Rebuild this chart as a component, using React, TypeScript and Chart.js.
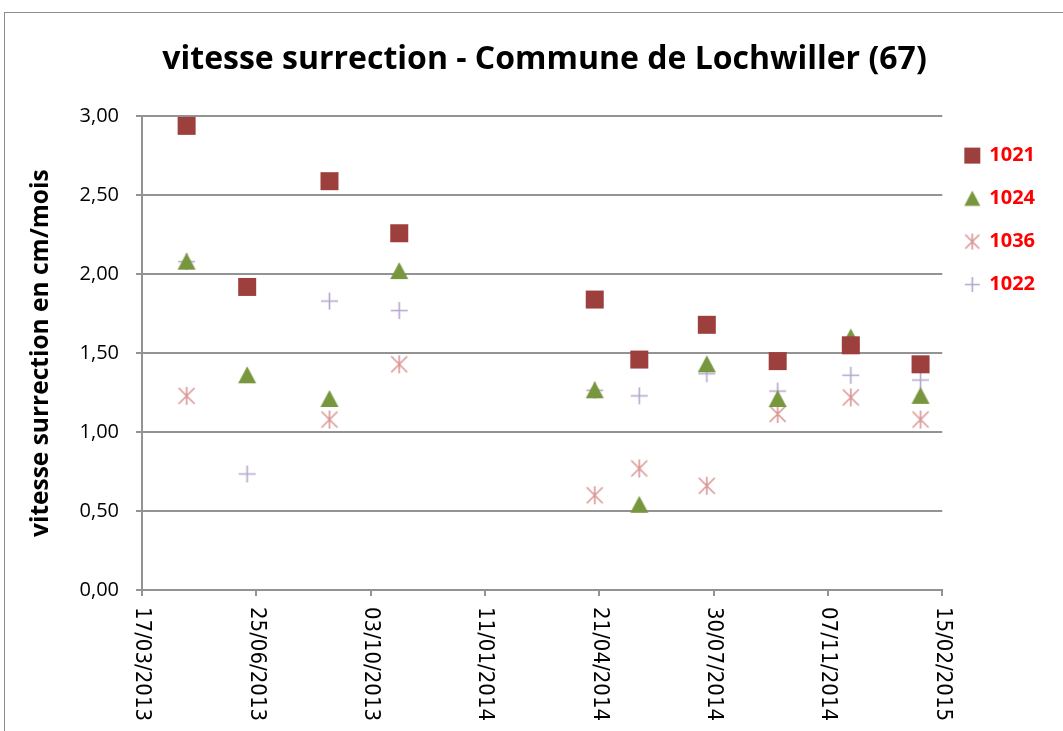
import React, { useEffect, useRef } from 'react';
import { Chart, registerables } from 'chart.js';

Chart.register(...registerables);

// ---- data ----
const chartTitle = 'vitesse surrection - Commune de Lochwiller (67)';
const yAxisTitle = 'vitesse surrection en cm/mois';
const dates = ['25/04/2013', '17/06/2013', '28/08/2013', '28/10/2013', '17/04/2014', '26/05/2014', '24/07/2014', '24/09/2014', '27/11/2014', '27/01/2015'];
const s1021 = [2.94, 1.92, 2.59, 2.26, 1.84, 1.46, 1.68, 1.45, 1.55, 1.43];
const s1024 = [2.08, 1.36, 1.21, 2.02, 1.265, 0.54, 1.43, 1.21, 1.6, 1.23];
const s1036 = [1.23, null, 1.08, 1.43, 0.6, 0.77, 0.66, 1.115, 1.22, 1.08];
const s1022 = [2.08, 0.735, 1.83, 1.77, 1.265, 1.23, 1.37, 1.26, 1.36, 1.33];
const seriesNames = ['1021', '1024', '1036', '1022'];
const seriesColors = ['#9C3F3D', '#77963D', '#DA9694', '#B3A6CD'];
const seriesKinds = ['square', 'triangle', 'star', 'plus'];
const xAxisStart = '17/03/2013';
const xAxisEnd = '15/02/2015';
const xStepDays = 100;
const yMin = 0;
const yMax = 3;
const yStep = 0.5;

const DAY = 86400000;
function toDay(s: string): number {
  const [d, m, y] = s.split('/').map(Number);
  return Math.round(Date.UTC(y, m - 1, d) / DAY);
}
function fromDay(v: number): string {
  const dt = new Date(v * DAY);
  const p = (n: number) => String(n).padStart(2, '0');
  return `${p(dt.getUTCDate())}/${p(dt.getUTCMonth() + 1)}/${dt.getUTCFullYear()}`;
}

function makeMarker(kind: string, size: number, color: string): HTMLCanvasElement {
  const c = document.createElement('canvas');
  c.width = size + 2;
  c.height = size + 2;
  const ctx = c.getContext('2d')!;
  const o = 1;
  const s = size;
  ctx.fillStyle = color;
  ctx.strokeStyle = color;
  if (kind === 'square') {
    ctx.fillRect(o, o, s, s);
  } else if (kind === 'triangle') {
    ctx.beginPath();
    ctx.moveTo(o + s / 2, o);
    ctx.lineTo(o + s, o + s * 0.95);
    ctx.lineTo(o, o + s * 0.95);
    ctx.closePath();
    ctx.fill();
  } else if (kind === 'star') {
    ctx.lineWidth = 1.6;
    ctx.beginPath();
    ctx.moveTo(o + 1, o + 1);
    ctx.lineTo(o + s - 1, o + s - 1);
    ctx.moveTo(o + s - 1, o + 1);
    ctx.lineTo(o + 1, o + s - 1);
    ctx.moveTo(o + s / 2, o);
    ctx.lineTo(o + s / 2, o + s);
    ctx.stroke();
  } else {
    ctx.lineWidth = 1.6;
    ctx.beginPath();
    ctx.moveTo(o + s / 2, o);
    ctx.lineTo(o + s / 2, o + s);
    ctx.moveTo(o, o + s / 2);
    ctx.lineTo(o + s, o + s / 2);
    ctx.stroke();
  }
  return c;
}

const FONT = "'Open Sans', 'Liberation Sans', sans-serif";
const GRID = '#939393';

export default function App() {
  const ref = useRef<HTMLCanvasElement | null>(null);

  useEffect(() => {
    if (!ref.current) return;
    const allSeries = [s1021, s1024, s1036, s1022];
    const dataMarkers = seriesKinds.map((k, i) => makeMarker(k, k === 'plus' ? 17 : 18, seriesColors[i]));
    const legendMarkers = seriesKinds.map((k, i) => makeMarker(k, k === 'plus' ? 15 : 16, seriesColors[i]));

    const datasets = allSeries.map((vals, i) => ({
      label: seriesNames[i],
      data: vals
        .map((v, j) => (v === null ? null : { x: toDay(dates[j]), y: v }))
        .filter((p) => p !== null),
      pointStyle: dataMarkers[i],
      backgroundColor: seriesColors[i],
      borderColor: seriesColors[i],
      showLine: false,
    }));

    const frame = {
      id: 'frame',
      afterLayout(chart: any) {
        // centre the title over the same span as the original picture
        if (chart.titleBlock) chart.titleBlock.left += 44;
      },
      beforeDraw(chart: any) {
        const { ctx } = chart;
        ctx.save();
        ctx.fillStyle = '#ffffff';
        ctx.fillRect(0, 0, chart.width, chart.height);
        ctx.strokeStyle = '#8c8c8c';
        ctx.lineWidth = 1;
        ctx.strokeRect(4.5, 12.5, chart.width + 20, chart.height + 20);
        ctx.restore();
      },
    };

    const xLabels = {
      id: 'xLabels',
      afterDraw(chart: any) {
        const sc = chart.scales.x;
        const ctx = chart.ctx;
        ctx.save();
        ctx.fillStyle = '#000000';
        ctx.font = "22px 'DejaVu Sans Condensed', 'DejaVu Sans', sans-serif";
        ctx.textAlign = 'left';
        ctx.textBaseline = 'middle';
        sc.ticks.forEach((t: any) => {
          const px = sc.getPixelForValue(t.value);
          ctx.save();
          ctx.translate(px, sc.top + 17);
          ctx.rotate(Math.PI / 2);
          ctx.fillText(fromDay(t.value), 0, 0);
          ctx.restore();
        });
        ctx.restore();
      },
    };

    const chart = new Chart(ref.current, {
      type: 'scatter',
      data: { datasets },
      plugins: [frame, xLabels],
      options: {
        responsive: false,
        animation: false,
        layout: { padding: { left: 0, right: 18, top: 0, bottom: 0 } },
        elements: { point: { radius: 9, hoverRadius: 9 } },
        plugins: {
          tooltip: { enabled: false },
          title: {
            display: true,
            text: chartTitle,
            color: '#000000',
            font: { family: FONT, size: 32, weight: 'bold' },
            padding: { top: 41, bottom: 37 },
          },
          legend: {
            position: 'right',
            align: 'start',
            fullSize: false,
            title: { display: true, text: ' ', font: { size: 1 }, padding: { top: 5, bottom: 0 } },
            labels: {
              usePointStyle: true,
              boxWidth: 14,
              boxHeight: 16,
              padding: 23,
              color: '#FF0000',
              font: { family: FONT, size: 20, weight: 'bold' },
              generateLabels(ch: any) {
                return ch.data.datasets.map((ds: any, i: number) => ({
                  text: ds.label,
                  fillStyle: ds.backgroundColor,
                  strokeStyle: ds.borderColor,
                  lineWidth: 0,
                  pointStyle: legendMarkers[i],
                  hidden: false,
                  datasetIndex: i,
                  fontColor: '#FF0000',
                }));
              },
            },
          },
        },
        scales: {
          x: {
            type: 'linear',
            min: toDay(xAxisStart),
            max: toDay(xAxisEnd),
            afterFit(scale: any) {
              scale.height = 141;
            },
            ticks: { stepSize: xStepDays, display: false },
            grid: {
              display: true,
              drawOnChartArea: false,
              drawTicks: true,
              tickLength: 6,
              lineWidth: 2,
              color: GRID,
            },
            border: { color: GRID, width: 2 },
          },
          y: {
            min: yMin,
            max: yMax,
            afterFit(scale: any) {
              scale.width = 142;
            },
            ticks: {
              stepSize: yStep,
              padding: 17,
              color: '#000000',
              font: { family: FONT, size: 20 },
              callback: (v: any) => Number(v).toFixed(2).replace('.', ','),
            },
            grid: { color: GRID, lineWidth: 2, tickLength: 6 },
            border: { color: GRID, width: 2 },
            title: {
              display: true,
              text: yAxisTitle,
              color: '#000000',
              font: { family: FONT, size: 24.5, weight: 'bold' },
              padding: { top: 26, bottom: 0 },
            },
          },
        },
      },
    });
    return () => chart.destroy();
  }, []);

  return (
    <div style={{ position: 'absolute', left: 0, top: 0, width: 1063, height: 731 }}>
      <canvas ref={ref} width={1063} height={731} style={{ display: 'block' }} />
    </div>
  );
}
